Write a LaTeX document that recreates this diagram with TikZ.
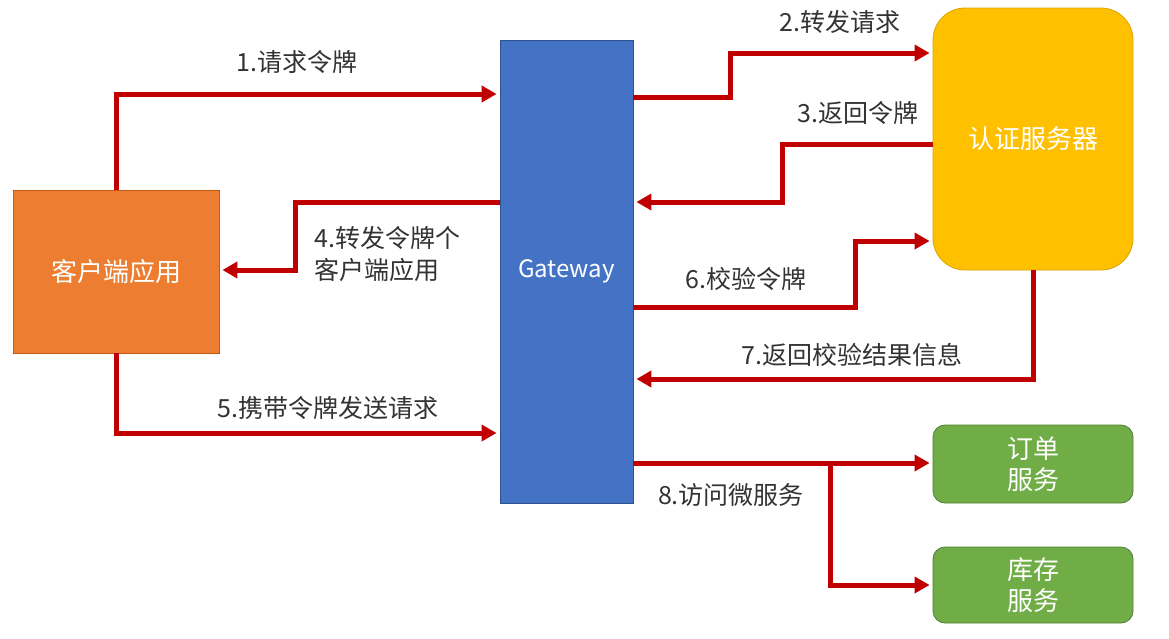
\documentclass[tikz,border=0pt]{standalone}
\usepackage{fontspec}
\setmainfont{Noto Sans CJK SC}
\usetikzlibrary{arrows.meta}
\definecolor{arrred}{HTML}{C00000}
\definecolor{orng}{HTML}{ED7D31}
\definecolor{orngd}{HTML}{C55A11}
\definecolor{blu}{HTML}{4472C4}
\definecolor{blud}{HTML}{2F528F}
\definecolor{gold}{HTML}{FFC000}
\definecolor{goldd}{HTML}{D9A400}
\definecolor{grn}{HTML}{70AD47}
\definecolor{grnd}{HTML}{507E32}
\definecolor{lbl}{HTML}{333333}
\tikzset{
  box/.style={draw, line width=0.8pt, text=white, font=\fontsize{26}{30}\selectfont, align=center, inner sep=0pt},
  arr/.style={draw=arrred, line width=5pt, line join=miter, -{Triangle[length=15pt,width=16pt]}, shorten >=3pt},
  lab/.style={text=lbl, font=\fontsize{25}{32}\selectfont, inner sep=0pt, align=left}
}
\begin{document}
\begin{tikzpicture}[x=1pt,y=-1pt]
\useasboundingbox[fill=white] (0,0) rectangle (1169,638);
\node[box, fill=orng, draw=orngd, minimum width=206pt, minimum height=163pt] (client) at (116,271.5) {客户端应用};
\node[box, fill=blu, draw=blud, minimum width=133pt, minimum height=463pt, font=\fontsize{24}{28}\selectfont] (gw) at (566.5,271.5) {Gateway};
\node[box, fill=gold, draw=goldd, rounded corners=32pt, minimum width=200pt, minimum height=262pt] (auth) at (1033,139) {认证服务器};
\node[box, fill=grn, draw=grnd, rounded corners=12pt, minimum width=200pt, minimum height=78pt, font=\fontsize{26}{31}\selectfont] (order) at (1033,464) {订单\\服务};
\node[box, fill=grn, draw=grnd, rounded corners=12pt, minimum width=200pt, minimum height=76pt, font=\fontsize{26}{31}\selectfont] (stock) at (1033,585) {库存\\服务};

\draw[arr] (client.north) -- (116,94) -- (gw.west |- 0,94);
\draw[arr] (gw.east |- 0,97) -- (730,97) -- (730,53) -- (auth.west |- 0,53);
\draw[arr] (auth.west |- 0,144) -- (782,144) -- (782,202) -- (gw.east |- 0,202);
\draw[arr] (gw.west |- 0,202) -- (295,202) -- (295,270) -- (client.east |- 0,270);
\draw[arr] (client.south) -- (116,433) -- (gw.west |- 0,433);
\draw[arr] (gw.east |- 0,307) -- (855,307) -- (855,241) -- (auth.west |- 0,241);
\draw[arr] (auth.south) -- (1033,379) -- (gw.east |- 0,379);
\draw[arr] (gw.east |- 0,463) -- (order.west |- 0,463);
\coordinate (br) at (830,463);
\draw[arr] (br) -- (830,585) -- (stock.west);

\node[lab] (l1) at (297,62) {1.请求令牌};
\node[lab] (l2) at (840,22) {2.转发请求};
\node[lab] (l3) at (858,113) {3.返回令牌};
\node[lab, anchor=west] (l4) at (314,254) {4.转发令牌个\\客户端应用};
\node[lab] (l5) at (328,408) {5.携带令牌发送请求};
\node[lab] (l6) at (746,279) {6.校验令牌};
\node[lab] (l7) at (852,355) {7.返回校验结果信息};
\node[lab] (l8) at (731,495) {8.访问微服务};
\end{tikzpicture}
\end{document}
